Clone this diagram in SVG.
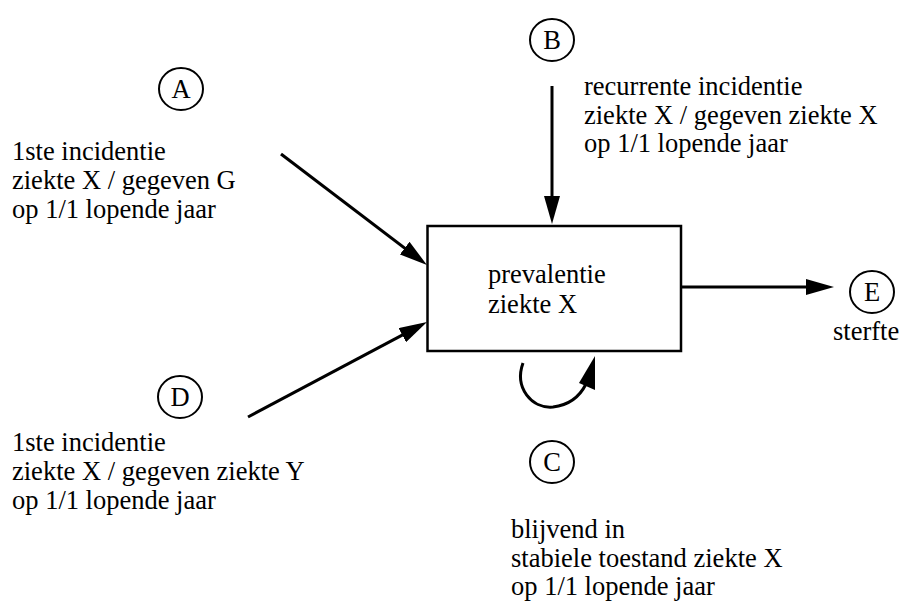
<svg xmlns="http://www.w3.org/2000/svg" width="914" height="601" viewBox="0 0 914 601">
<style>
.t{font-family:'Liberation Serif','Times New Roman',Times,serif;font-size:26.5px;fill:#000}
.lbl{text-anchor:middle}
.c{fill:none;stroke:#000;stroke-width:2}
.ln{fill:none;stroke:#000;stroke-width:3}
</style>
<defs>
<marker id="ah" viewBox="0 0 28 16" refX="18" refY="8" markerWidth="28" markerHeight="16" markerUnits="userSpaceOnUse" orient="auto">
<path d="M0,0 L28,8 L0,16 z" fill="#000"/>
</marker>
</defs>
<rect width="914" height="601" fill="#fff"/>
<g id="connectors">
<line class="ln" x1="281" y1="154" x2="419" y2="259" marker-end="url(#ah)"/>
<line class="ln" x1="248" y1="417" x2="418.2" y2="326.7" marker-end="url(#ah)"/>
<line class="ln" x1="552" y1="86" x2="552" y2="214" marker-end="url(#ah)"/>
<line class="ln" x1="681" y1="287" x2="824" y2="287" marker-end="url(#ah)"/>
<path class="ln" d="M523 363 C514 388 532 409 553 407 C570 405 580 396 586 384"/>
<polygon points="595,356 579,383 595,390" fill="#000"/>
</g>
<g id="prevalentie" class="t">
<rect x="427.5" y="226" width="253.5" height="125" fill="#fff" stroke="#000" stroke-width="2.5"/>
<text x="488" y="283">prevalentie</text>
<text x="488" y="313">ziekte X</text>
</g>
<g id="A" class="t">
<ellipse class="c" cx="181" cy="89" rx="22" ry="21"/>
<text class="lbl" x="181" y="98">A</text>
<text x="12" y="160">1ste incidentie</text>
<text x="12" y="189">ziekte X / gegeven G</text>
<text x="12" y="218">op 1/1 lopende jaar</text>
</g>
<g id="B" class="t">
<ellipse class="c" cx="552" cy="40" rx="22" ry="21"/>
<text class="lbl" x="552" y="49">B</text>
<text x="584" y="95">recurrente incidentie</text>
<text x="584" y="124">ziekte X / gegeven ziekte X</text>
<text x="584" y="152">op 1/1 lopende jaar</text>
</g>
<g id="D" class="t">
<ellipse class="c" cx="180" cy="397" rx="22" ry="21"/>
<text class="lbl" x="180" y="406">D</text>
<text x="12" y="451">1ste incidentie</text>
<text x="12" y="480">ziekte X / gegeven ziekte Y</text>
<text x="12" y="509">op 1/1 lopende jaar</text>
</g>
<g id="C" class="t">
<ellipse class="c" cx="552" cy="462" rx="22" ry="21"/>
<text class="lbl" x="552" y="471">C</text>
<text x="511" y="538">blijvend in</text>
<text x="511" y="567">stabiele toestand ziekte X</text>
<text x="511" y="595">op 1/1 lopende jaar</text>
</g>
<g id="E" class="t">
<ellipse class="c" cx="872" cy="292" rx="22" ry="21"/>
<text class="lbl" x="872" y="301">E</text>
<text x="833" y="340">sterfte</text>
</g>
</svg>
